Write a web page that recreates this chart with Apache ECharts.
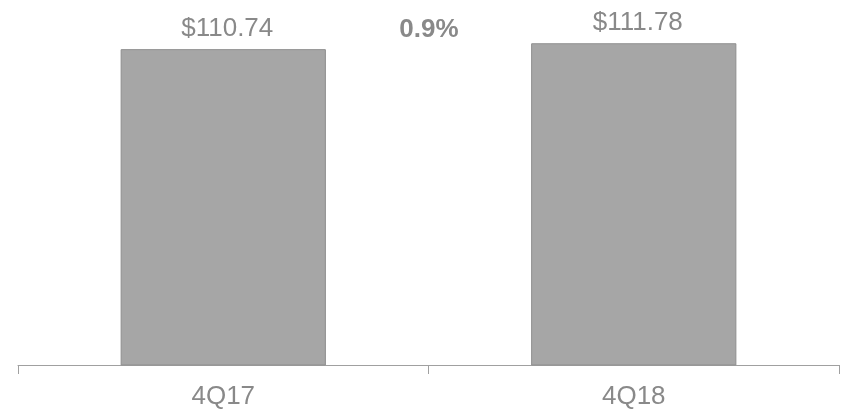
<!DOCTYPE html>
<html>
<head>
<meta charset="utf-8">
<script src="https://cdn.jsdelivr.net/npm/echarts@6/dist/echarts.min.js"></script>
<style>html,body{margin:0;padding:0;background:#fff;}#c{width:844px;height:410px;}</style>
</head>
<body>
<div id="c"></div>
<script>
const categories = ['4Q17', '4Q18'];
const values = [110.74, 111.78];
const valueLabels = ['$110.74', '$111.78'];
const changeLabel = ['0.9%'];

const chart = echarts.init(document.getElementById('c'));
const font = 'Liberation Sans, Arial, sans-serif';
chart.setOption({
  animation: false,
  grid: { left: 18, right: 5, top: 25, bottom: 44 },
  xAxis: {
    type: 'category',
    data: categories,
    boundaryGap: true,
    axisLine: { lineStyle: { color: '#a0a0a0', width: 1 } },
    axisTick: { show: true, alignWithLabel: false, interval: 0, length: 9, lineStyle: { color: '#a0a0a0', width: 1 } },
    axisLabel: { color: '#898989', fontSize: 26, fontFamily: font, margin: 19 }
  },
  yAxis: {
    type: 'value', min: 55, max: 115, show: false, splitLine: { show: false }
  },
  series: [{
    type: 'bar',
    data: values,
    barWidth: '50%',
    itemStyle: { color: '#a6a6a6', borderColor: '#8f8f8f', borderWidth: 1 },
    label: {
      show: true, position: 'top', distance: 7, offset: [4, 0],
      color: '#898989', fontSize: 26, fontFamily: font,
      formatter: p => valueLabels[p.dataIndex]
    }
  }],
  graphic: [{
    type: 'text', x: 429, y: 30,
    style: { text: changeLabel[0], fill: '#898989', font: 'bold 26px ' + font, textAlign: 'center', textVerticalAlign: 'middle' }
  }]
});
</script>
</body>
</html>
